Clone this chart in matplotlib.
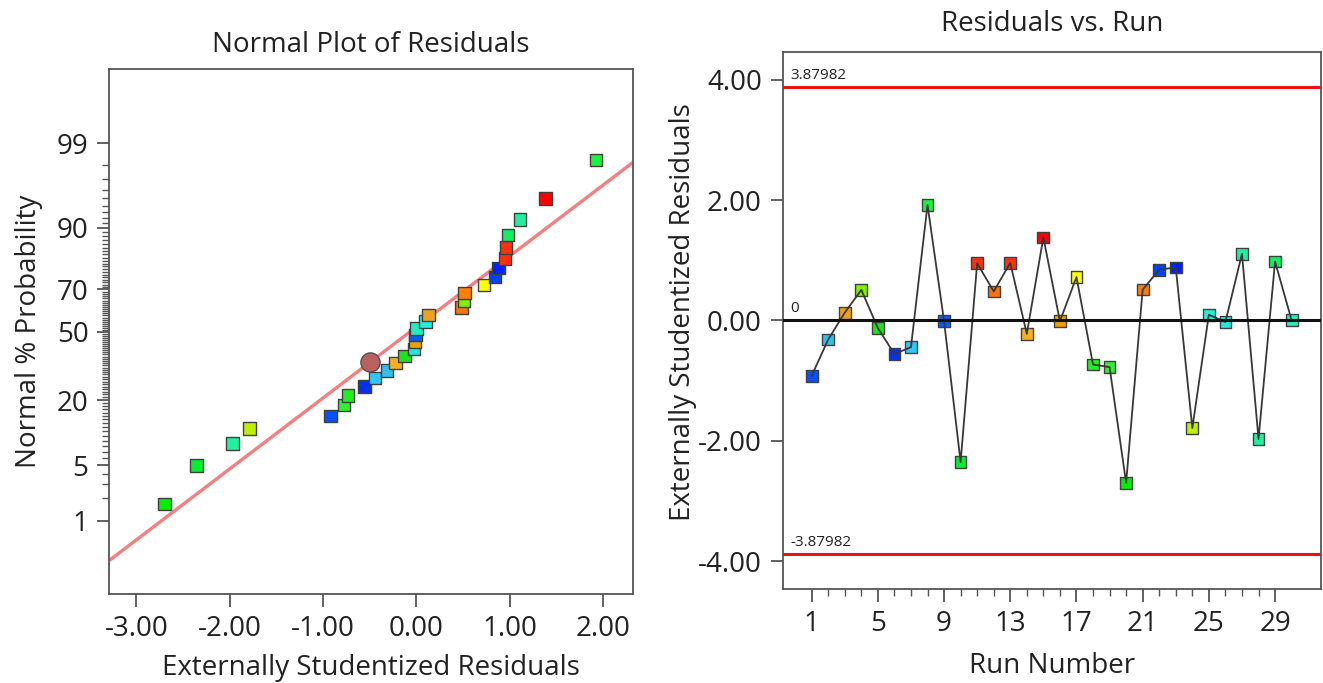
import statistics

import matplotlib

matplotlib.use("Agg")
import matplotlib.pyplot as plt
import numpy as np
from matplotlib.ticker import FixedLocator, FixedFormatter, NullFormatter

plt.rcParams["font.family"] = ["Open Sans", "DejaVu Sans"]

runs = list(range(1, 31))
residuals = [
    -0.92, -0.316, 0.13, 0.51, -0.125, -0.557, -0.444, 1.922, -0.01, -2.354,
    0.952, 0.484, 0.958, -0.222, 1.382, -0.013, 0.722, -0.732, -0.775, -2.70,
    0.514, 0.845, 0.882, -1.788, 0.096, -0.024, 1.11, -1.97, 0.98, 0.003,
]
run_colors = [
    "#0a50ff", "#30c0f0", "#f0a020", "#80f000", "#20e020", "#0030f0",
    "#30c8f8", "#20f040", "#0060ff", "#00f030", "#ff3010", "#ff7010",
    "#ff3010", "#f8b020", "#ff0000", "#f0a000", "#ffff00", "#20f020",
    "#30f030", "#00f000", "#ff8000", "#0040ff", "#0020ff", "#c0f000",
    "#20f0e0", "#20e8e0", "#20f0a0", "#20f0a0", "#10f060", "#20f0c0",
]

# normal % probability of the sorted residuals (left panel)
prob_pct = [
    1.7, 5.0, 8.4, 11.7, 15.0, 18.4, 21.7, 25.1, 28.4, 31.7,
    35.1, 38.4, 41.7, 45.0, 48.4, 51.7, 55.0, 58.3, 61.7, 65.0,
    68.4, 71.7, 75.0, 78.4, 81.7, 85.0, 88.4, 91.7, 95.0, 98.3,
]
circle_x, circle_pct = -0.495, 35.7
fit_x = [-3.29, 2.32]
fit_pct = [0.242, 98.16]

prob_major = [1, 5, 20, 50, 70, 90, 99]
prob_minor = [p for p in range(2, 99) if p not in prob_major]
left_xticks = [-3.0, -2.0, -1.0, 0.0, 1.0, 2.0]
right_yticks = [-4.0, -2.0, 0.0, 2.0, 4.0]
run_major = [1, 5, 9, 13, 17, 21, 25, 29]
run_minor = [r for r in range(2, 29) if r not in run_major]
limit = 3.87982

ND = statistics.NormalDist()
_inv = np.vectorize(ND.inv_cdf, otypes=[float])
_cdf = np.vectorize(ND.cdf, otypes=[float])


def pct_to_z(p):
    p = np.clip(np.asarray(p, dtype=float), 1e-7, 100 - 1e-7)
    return _inv(p / 100.0)


def z_to_pct(z):
    return _cdf(np.asarray(z, dtype=float)) * 100.0


SPINE = "#555555"
TXT = "#222222"
FS = 20


def style_axes(ax):
    for s in ax.spines.values():
        s.set_color(SPINE)
        s.set_linewidth(1.3)
    ax.tick_params(which="major", length=9, width=1.3, color=SPINE,
                   labelsize=FS, labelcolor=TXT, pad=6)
    ax.tick_params(which="minor", length=5, width=1.0, color=SPINE)


fig = plt.figure(figsize=(13.23, 6.83), dpi=100)

# ---- left: normal plot of residuals
ax1 = fig.add_axes([0.0826, 0.1303, 0.3958, 0.7687])
ax1.set_yscale("function", functions=(pct_to_z, z_to_pct))
ax1.set_xlim(-3.29, 2.32)
ax1.set_ylim(0.0617, 99.94)

order = np.argsort(residuals, kind="stable")
sorted_res = np.asarray(residuals)[order]
sorted_cols = [run_colors[i] for i in order]

ax1.plot(fit_x, fit_pct, color="#f47f7f", lw=2.4, zorder=2, solid_capstyle="butt")
ax1.scatter(sorted_res, prob_pct, marker="s", s=80, c=sorted_cols,
            edgecolors="#404040", linewidths=1.0, zorder=3)
ax1.scatter([circle_x], [circle_pct], marker="o", s=190, c="#b86262",
            edgecolors="#505050", linewidths=1.0, zorder=4)

ax1.yaxis.set_major_locator(FixedLocator(prob_major))
ax1.yaxis.set_major_formatter(FixedFormatter([str(p) for p in prob_major]))
ax1.yaxis.set_minor_locator(FixedLocator(prob_minor))
ax1.yaxis.set_minor_formatter(NullFormatter())
ax1.set_xticks(left_xticks)
ax1.set_xticklabels([f"{v:.2f}" for v in left_xticks])
style_axes(ax1)
ax1.set_title("Normal Plot of Residuals", fontsize=FS, color=TXT, pad=12)
ax1.set_xlabel("Externally Studentized Residuals", fontsize=FS, color=TXT, labelpad=8)
ax1.set_ylabel("Normal % Probability", fontsize=FS, color=TXT, labelpad=10)

# ---- right: residuals vs run
ax2 = fig.add_axes([0.5916, 0.1372, 0.4067, 0.7871])
ax2.set_xlim(-0.75, 31.76)
ax2.set_ylim(-4.47, 4.47)

ax2.axhline(limit, color="#ee1111", lw=2.2, zorder=2)
ax2.axhline(-limit, color="#ee1111", lw=2.2, zorder=2)
ax2.scatter(runs, residuals, marker="s", s=72, c=run_colors,
            edgecolors="#404040", linewidths=1.0, zorder=3)
ax2.plot(runs, residuals, color="#383838", lw=1.3, zorder=4)
ax2.axhline(0, color="#111111", lw=2.2, zorder=5)

ytr = ax2.get_yaxis_transform()
ax2.text(0.014, limit + 0.07, f"{limit:g}", transform=ytr, fontsize=11,
         color=TXT, va="bottom", ha="left")
ax2.text(0.014, -limit + 0.07, f"{-limit:g}", transform=ytr, fontsize=11,
         color=TXT, va="bottom", ha="left")
ax2.text(0.014, 0.07, "0", transform=ytr, fontsize=11, color=TXT,
         va="bottom", ha="left")

ax2.set_yticks(right_yticks)
ax2.set_yticklabels([f"{v:.2f}" for v in right_yticks])
ax2.xaxis.set_major_locator(FixedLocator(run_major))
ax2.xaxis.set_minor_locator(FixedLocator(run_minor))
ax2.xaxis.set_minor_formatter(NullFormatter())
style_axes(ax2)
ax2.set_title("Residuals vs. Run", fontsize=FS, color=TXT, pad=15)
ax2.set_xlabel("Run Number", fontsize=FS, color=TXT, labelpad=10)
ax2.set_ylabel("Externally Studentized Residuals", fontsize=FS, color=TXT)
ax2.yaxis.set_label_coords(-0.16, 0.515)

fig.savefig("out.png", dpi=100, facecolor="white")
